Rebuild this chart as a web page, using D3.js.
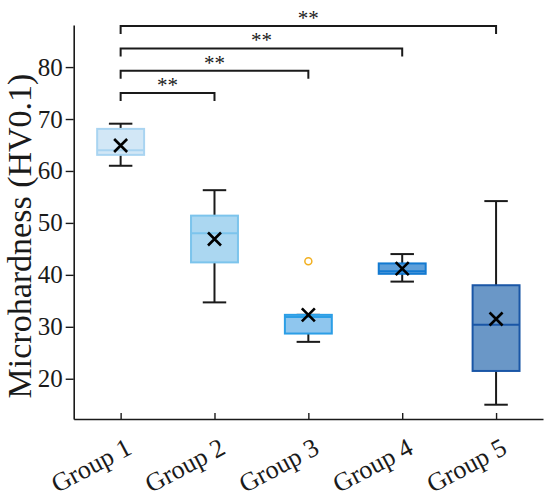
<!DOCTYPE html>
<html>
<head>
<meta charset="utf-8">
<script src="https://cdn.jsdelivr.net/npm/d3@7"></script>
<style>
  body { margin: 0; background: #fff; }
  text { font-family: "Liberation Serif", "Times New Roman", serif; fill: #1a1a1a; }
</style>
</head>
<body>
<div class="container"></div>
<script>
// box plot summaries
var groups = ["Group 1", "Group 2", "Group 3", "Group 4", "Group 5"];
var whiskerLow  = [61.0, 34.7, 27.1, 38.7, 15.0];
var q1          = [63.1, 42.4, 28.7, 40.2, 21.5];
var medians     = [64.0, 48.0, 31.9, 40.7, 30.4];
var q3          = [68.1, 51.4, 32.3, 42.2, 38.0];
var whiskerHigh = [69.1, 56.3, 32.3, 44.0, 54.2];
var means       = [64.9, 46.9, 32.3, 41.2, 31.5];

var outlierGroup = ["Group 3"];
var outlierValue = [42.6];

// significance brackets
var compareFrom  = ["Group 1", "Group 1", "Group 1", "Group 1"];
var compareTo    = ["Group 2", "Group 3", "Group 4", "Group 5"];
var compareLevel = [75.0, 79.3, 83.6, 87.9];
var compareLabel = ["**", "**", "**", "**"];

var yTicks = [20, 30, 40, 50, 60, 70, 80];

var fills   = ["#d2e7f6", "#abd7f1", "#8fc6ee", "#5fa0da", "#6a97c7"];
var strokes = ["#a9d4f1", "#7cc4ec", "#2b9ee6", "#137ad1", "#1a56a6"];

var width = 550, height = 498;
var plotLeft = 73.7, plotRight = 543, plotTop = 25, plotBottom = 419;

var svg = d3.select(".container").append("svg")
    .attr("width", width)
    .attr("height", height);

var x = d3.scalePoint().domain(groups).range([plotLeft, plotRight]).padding(0.5);
var y = d3.scaleLinear().domain([12.25, 88.1]).range([plotBottom, plotTop]);
var step = x.step();
var boxW = step * 0.5, capW = step * 0.25;

// axes
var yAxis = svg.append("g")
    .attr("transform", "translate(" + plotLeft + ",0)")
    .call(d3.axisLeft(y).tickValues(yTicks).tickSizeInner(8).tickSizeOuter(0).tickPadding(3));
yAxis.select(".domain").attr("stroke", "#1a1a1a").attr("stroke-width", 1.6);
yAxis.selectAll(".tick line").attr("stroke", "#1a1a1a").attr("stroke-width", 1.4);
yAxis.selectAll(".tick text").style("font-size", "25px").attr("fill", "#1a1a1a");

var xAxis = svg.append("g")
    .attr("transform", "translate(0," + plotBottom + ")")
    .call(d3.axisBottom(x).tickSizeInner(-6).tickSizeOuter(0));
xAxis.select(".domain").attr("stroke", "#1a1a1a").attr("stroke-width", 1.6);
xAxis.selectAll(".tick line").attr("stroke", "#1a1a1a").attr("stroke-width", 1.4);
xAxis.selectAll(".tick text")
    .attr("y", 0).attr("dy", 0)
    .attr("text-anchor", "end")
    .attr("transform", "translate(12,34) rotate(-28)")
    .style("font-size", "26px")
    .attr("fill", "#1a1a1a");

// y label
svg.append("text")
    .attr("transform", "translate(31," + ((plotTop + plotBottom) / 2 + 14) + ") rotate(-90)")
    .attr("text-anchor", "middle")
    .style("font-size", "34px")
    .text("Microhardness (HV0.1)");

// boxes
var box = svg.selectAll(".box")
    .data(groups)
  .enter().append("g")
    .attr("class", "box");

box.append("line")
    .attr("x1", function(d) { return x(d); })
    .attr("x2", function(d) { return x(d); })
    .attr("y1", function(d, i) { return y(whiskerLow[i]); })
    .attr("y2", function(d, i) { return y(whiskerHigh[i]); })
    .attr("stroke", "#1a1a1a").attr("stroke-width", 2);

box.selectAll(".cap")
    .data(function(d, i) { return [[d, whiskerLow[i]], [d, whiskerHigh[i]]]; })
  .enter().append("line")
    .attr("x1", function(d) { return x(d[0]) - capW / 2; })
    .attr("x2", function(d) { return x(d[0]) + capW / 2; })
    .attr("y1", function(d) { return y(d[1]); })
    .attr("y2", function(d) { return y(d[1]); })
    .attr("stroke", "#1a1a1a").attr("stroke-width", 2);

box.append("rect")
    .attr("x", function(d) { return x(d) - boxW / 2; })
    .attr("width", boxW)
    .attr("y", function(d, i) { return y(q3[i]); })
    .attr("height", function(d, i) { return y(q1[i]) - y(q3[i]); })
    .attr("fill", function(d, i) { return fills[i]; })
    .attr("stroke", function(d, i) { return strokes[i]; })
    .attr("stroke-width", 2);

box.append("line")
    .attr("x1", function(d) { return x(d) - boxW / 2; })
    .attr("x2", function(d) { return x(d) + boxW / 2; })
    .attr("y1", function(d, i) { return y(medians[i]); })
    .attr("y2", function(d, i) { return y(medians[i]); })
    .attr("stroke", function(d, i) { return strokes[i]; })
    .attr("stroke-width", 2);

// mean markers
var m = 6.5;
box.append("path")
    .attr("d", function(d, i) {
      var cx = x(d), cy = y(means[i]);
      return "M" + (cx - m) + "," + (cy - m) + "L" + (cx + m) + "," + (cy + m)
           + "M" + (cx - m) + "," + (cy + m) + "L" + (cx + m) + "," + (cy - m);
    })
    .attr("stroke", "#000").attr("stroke-width", 2.6).attr("fill", "none");

// outliers
svg.selectAll(".outlier")
    .data(outlierGroup)
  .enter().append("circle")
    .attr("class", "outlier")
    .attr("cx", function(d) { return x(d); })
    .attr("cy", function(d, i) { return y(outlierValue[i]); })
    .attr("r", 3.5)
    .attr("fill", "none")
    .attr("stroke", "#f2b021")
    .attr("stroke-width", 1.5);

// significance brackets
var legH = 8;
var br = svg.selectAll(".bracket")
    .data(compareLevel)
  .enter().append("g")
    .attr("class", "bracket");

br.append("path")
    .attr("d", function(d, i) {
      var x1 = x(compareFrom[i]), x2 = x(compareTo[i]), yy = y(d);
      return "M" + x1 + "," + (yy + legH) + "V" + yy + "H" + x2 + "V" + (yy + legH);
    })
    .attr("fill", "none").attr("stroke", "#1a1a1a").attr("stroke-width", 2);

br.append("text")
    .attr("x", function(d, i) { return (x(compareFrom[i]) + x(compareTo[i])) / 2; })
    .attr("y", function(d) { return y(d) - 1; })
    .attr("text-anchor", "middle")
    .style("font-size", "21px")
    .text(function(d, i) { return compareLabel[i]; });
</script>
</body>
</html>
